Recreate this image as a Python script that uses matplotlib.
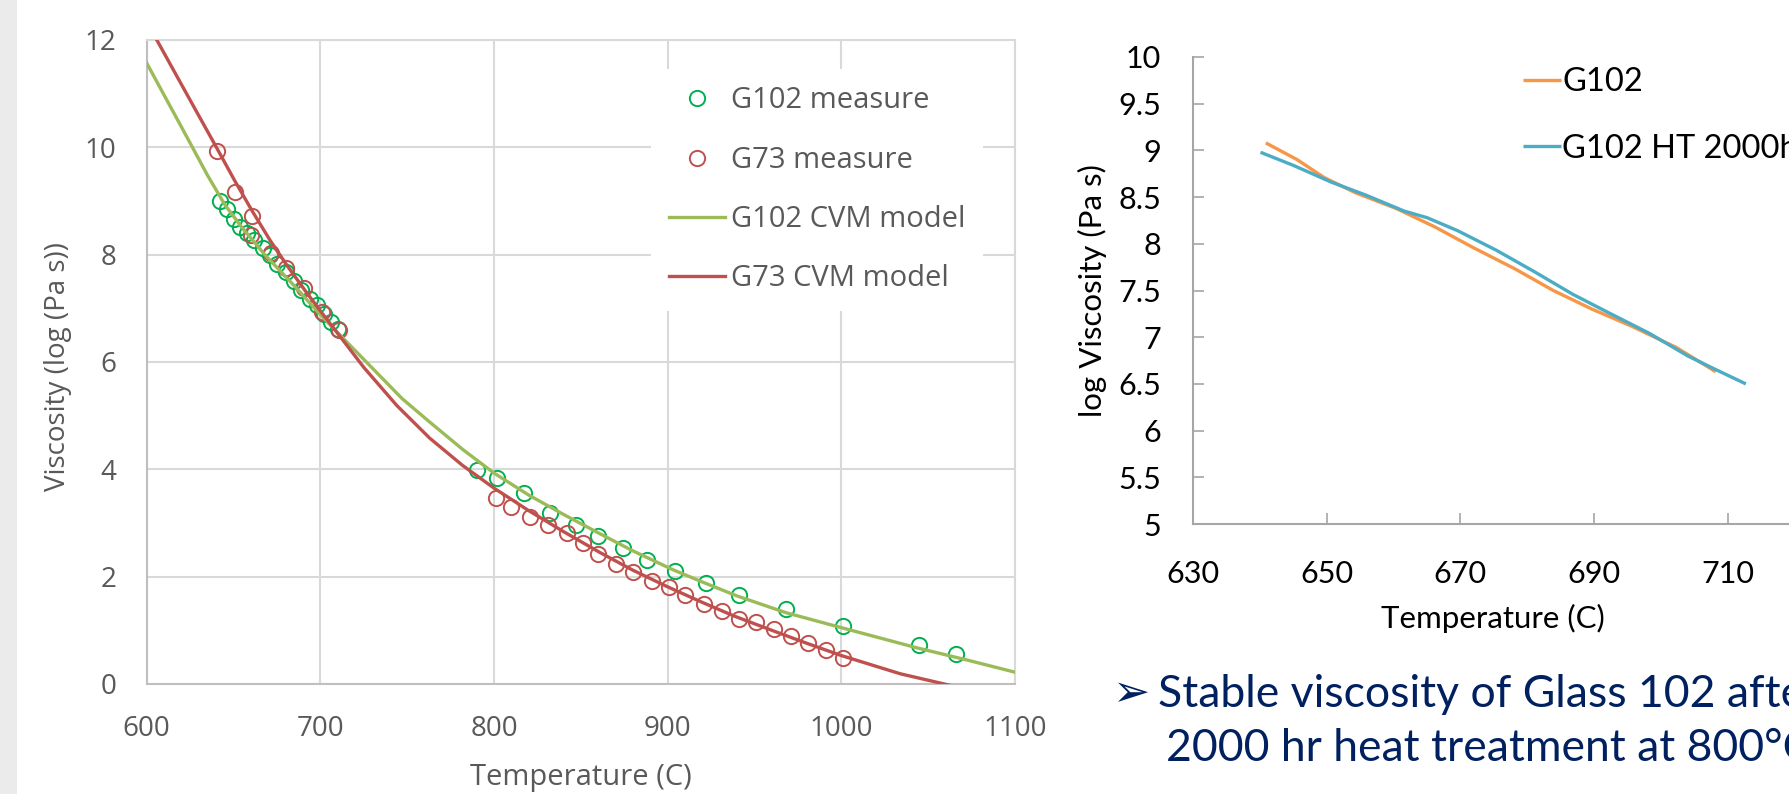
import matplotlib
matplotlib.use("Agg")
import matplotlib.pyplot as plt
from matplotlib.patches import Rectangle
from matplotlib.ticker import FuncFormatter

# ---------------- data: left chart ----------------
g102_meas_T = [642, 646, 650, 654, 658, 662, 667, 671, 675, 680, 685, 689, 694, 698, 702, 706, 710,
               790, 802, 817, 832, 847, 860, 874, 888, 904, 922, 941, 968, 1001, 1045, 1066]
g102_meas_Y = [9.00, 8.85, 8.67, 8.52, 8.40, 8.28, 8.13, 7.99, 7.83, 7.68, 7.51, 7.35, 7.18, 7.06, 6.90, 6.75, 6.62,
               3.98, 3.83, 3.56, 3.19, 2.96, 2.76, 2.54, 2.31, 2.11, 1.89, 1.65, 1.39, 1.08, 0.73, 0.56]

g73_meas_T = [640.6, 650.8, 660.8, 660, 671.3, 680.5, 690.5, 700.7, 710.6,
              801, 810, 821, 831, 842, 851, 860, 870, 880, 891, 901, 910, 921, 931, 941, 951, 961, 971, 981, 991, 1001]
g73_meas_Y = [9.94, 9.16, 8.72, 8.36, 8.03, 7.76, 7.37, 6.93, 6.59,
              3.46, 3.30, 3.12, 2.96, 2.81, 2.63, 2.43, 2.24, 2.09, 1.92, 1.80, 1.65, 1.50, 1.36, 1.22, 1.16,
              1.02, 0.90, 0.77, 0.63, 0.48]

g102_model_T = [600, 620, 635, 645, 655, 668, 685, 700, 715, 728, 747, 763, 782, 800, 820, 840, 861, 880,
                903, 920, 940, 968, 1000, 1044, 1072, 1100]
g102_model_Y = [11.57, 10.38, 9.48, 8.93, 8.50, 8.00, 7.42, 6.88, 6.38, 5.95, 5.32, 4.88, 4.37, 3.93, 3.52,
                3.16, 2.80, 2.48, 2.13, 1.90, 1.64, 1.33, 1.05, 0.67, 0.45, 0.22]

g73_model_T = [606, 625, 641, 651, 661, 671, 681, 691, 701, 711, 725, 744, 763, 782, 800, 820, 840, 861,
               880, 900, 920, 938, 960, 980, 1000, 1034, 1070]
g73_model_Y = [11.99, 10.88, 9.95, 9.36, 8.80, 8.27, 7.79, 7.34, 6.91, 6.49, 5.90, 5.19, 4.58, 4.07, 3.65,
               3.23, 2.84, 2.45, 2.12, 1.81, 1.52, 1.27, 1.00, 0.76, 0.53, 0.19, -0.08]

left_xticks = [600, 700, 800, 900, 1000, 1100]
left_yticks = [0, 2, 4, 6, 8, 10, 12]

# ---------------- data: right chart ----------------
g102_T = [640.9, 645.6, 649.6, 654.2, 660.5, 666.2, 671.9, 678.2, 683.9, 689.7, 695.4, 702.3, 708.2]
g102_Y = [9.08, 8.90, 8.71, 8.55, 8.375, 8.18, 7.96, 7.73, 7.50, 7.30, 7.125, 6.89, 6.63]
g102ht_T = [640.1, 645.0, 650.7, 655.9, 661.6, 665.0, 669.6, 675.4, 681.1, 686.8, 692.5, 698.3, 704.0, 708.0, 712.7]
g102ht_Y = [8.98, 8.84, 8.66, 8.52, 8.35, 8.28, 8.14, 7.93, 7.70, 7.46, 7.25, 7.04, 6.80, 6.66, 6.50]

right_xticks = [630, 650, 670, 690, 710, 730, 750]
right_yticks = [5, 5.5, 6, 6.5, 7, 7.5, 8, 8.5, 9, 9.5, 10]

W, H = 1789, 794
fig = plt.figure(figsize=(W / 100, H / 100), dpi=100)
fig.patches.append(Rectangle((0, 0), 17 / W, 1, transform=fig.transFigure,
                             facecolor='#ebebeb', edgecolor='none', zorder=-5))

LFONT = 'Open Sans'
RFONT = 'Lato'
gray_txt = '#595959'

# ---------------- left chart ----------------
ax1 = fig.add_axes([146.7 / W, 1 - 684 / H, 868.3 / W, 644 / H])
ax1.set_xlim(600, 1100)
ax1.set_ylim(0, 12)
ax1.set_xticks(left_xticks)
ax1.set_yticks(left_yticks)
ax1.grid(True, color='#d9d9d9', lw=1.5)
ax1.set_axisbelow(True)
for s in ax1.spines.values():
    s.set_color('#d9d9d9')
    s.set_linewidth(1.5)
ax1.spines['left'].set_color('#bfbfbf')
ax1.spines['bottom'].set_color('#bfbfbf')
ax1.tick_params(length=0, labelsize=20, labelcolor=gray_txt, pad=22)
for lab in ax1.get_xticklabels() + ax1.get_yticklabels():
    lab.set_fontfamily(LFONT)

ax1.plot(g102_meas_T, g102_meas_Y, 'o', ls='none', mfc='none', mec='#00B050', ms=11, mew=1.4,
         label='G102 measure', zorder=3)
ax1.plot(g73_meas_T, g73_meas_Y, 'o', ls='none', mfc='none', mec='#C0504D', ms=11, mew=1.4,
         label='G73 measure', zorder=3)
ax1.plot(g102_model_T, g102_model_Y, color='#9BBB59', lw=2.4, label='G102 CVM model', zorder=4)
ax1.plot(g73_model_T, g73_model_Y, color='#C0504D', lw=2.4, label='G73 CVM model', zorder=4)

leg1 = ax1.legend(loc='upper left', bbox_to_anchor=(651 / W, 1 - 69 / H), bbox_transform=fig.transFigure,
                  frameon=True, facecolor='white', edgecolor='none', framealpha=1, fancybox=False,
                  borderpad=0.6, borderaxespad=0, handlelength=1.95, handletextpad=0.2, labelspacing=1.04,
                  prop={'family': LFONT, 'size': 21}, labelcolor=gray_txt, numpoints=1)

fig.text(58 / W, 1 - 367 / H, 'Viscosity (log (Pa s))', rotation=90, ha='center', va='center',
         family=LFONT, size=20, color=gray_txt)
fig.text(581 / W, 1 - 777 / H, 'Temperature (C)', ha='center', va='center',
         family=LFONT, size=21, color=gray_txt)

# ---------------- right chart ----------------
px_per_deg = 133.7 / 20
ax2 = fig.add_axes([1193 / W, 1 - 524 / H, (750 - 630) * px_per_deg / W, 467 / H])
ax2.set_xlim(630, 750)
ax2.set_ylim(5, 10)
ax2.set_xticks(right_xticks)
ax2.set_yticks(right_yticks)
ax2.yaxis.set_major_formatter(FuncFormatter(lambda v, p: f'{v:g}'))
for side in ('top', 'right'):
    ax2.spines[side].set_visible(False)
for side in ('left', 'bottom'):
    ax2.spines[side].set_color('#a6a6a6')
    ax2.spines[side].set_linewidth(1.5)
ax2.tick_params(direction='in', length=8, width=1.2, color='#a6a6a6', labelsize=22, labelcolor='black')
ax2.tick_params(axis='y', pad=23)
ax2.tick_params(axis='x', pad=26)
for lab in ax2.get_xticklabels() + ax2.get_yticklabels():
    lab.set_fontfamily(RFONT)

ax2.plot(g102_T, g102_Y, color='#F79646', lw=2.4, label='G102', solid_capstyle='butt')
ax2.plot(g102ht_T, g102ht_Y, color='#4BACC6', lw=2.4, label='G102 HT 2000hr', solid_capstyle='butt')

ax2.legend(loc='upper left', bbox_to_anchor=(1523 / W, 1 - 67 / H), bbox_transform=fig.transFigure,
           frameon=False, borderpad=0, borderaxespad=0, handlelength=1.15, handletextpad=0.05,
           labelspacing=1.12, prop={'family': RFONT, 'size': 23.5})

fig.text(1092 / W, 1 - 291 / H, 'log Viscosity (Pa s)', rotation=90, ha='center', va='center',
         family=RFONT, size=22.5, color='black')
fig.text(1493 / W, 1 - 618 / H, 'Temperature (C)', ha='center', va='center',
         family=RFONT, size=22.5, color='black')

# ---------------- bullet text ----------------
navy = '#002060'
fig.text(1112 / W, 1 - 706 / H, '\u27a2', ha='left', va='baseline', family='DejaVu Sans', size=32, color=navy)
fig.text(1158 / W, 1 - 707 / H, 'Stable viscosity of Glass 102 after', ha='left', va='baseline',
         family=RFONT, size=32, color=navy)
fig.text(1166 / W, 1 - 761 / H, '2000 hr heat treatment at 800\u00b0C', ha='left', va='baseline',
         family=RFONT, size=32, color=navy)

fig.savefig('out.png', dpi=100)
